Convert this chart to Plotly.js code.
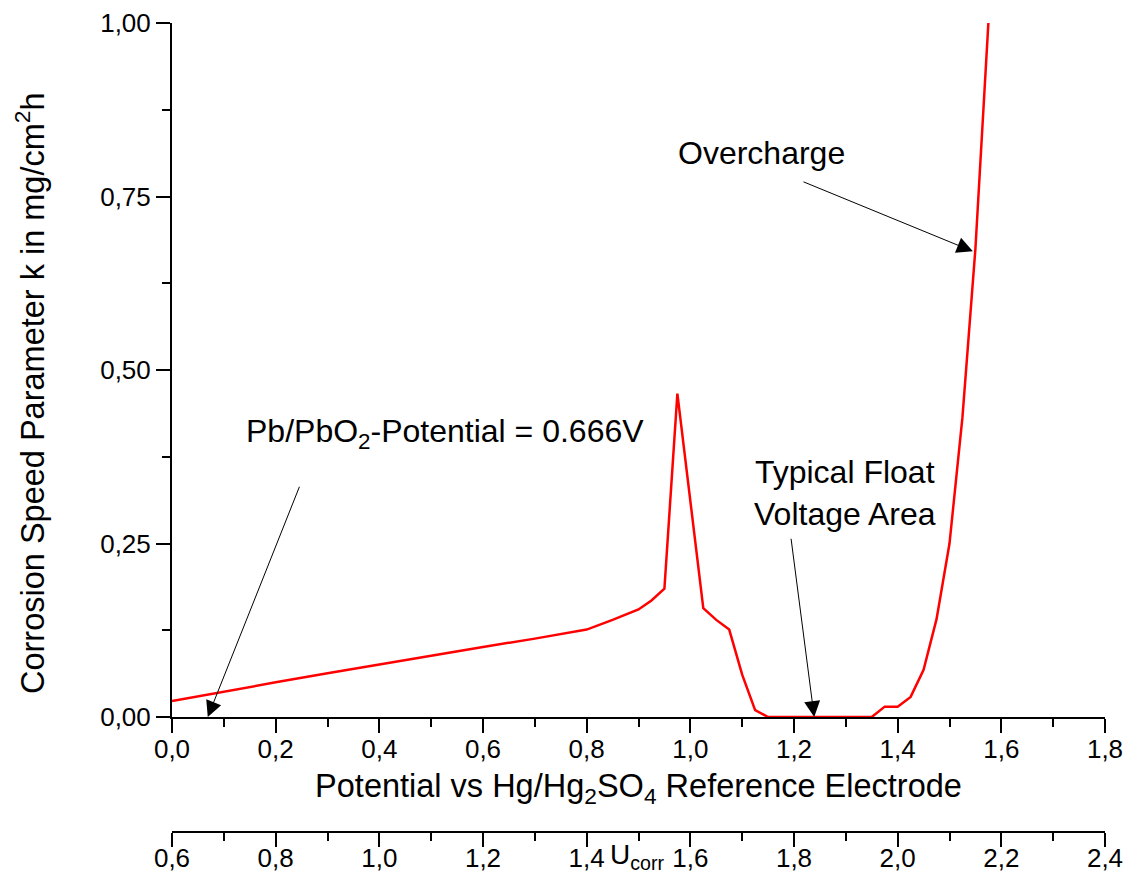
<!DOCTYPE html>
<html>
<head>
<meta charset="utf-8">
<script src="https://cdn.plot.ly/plotly-3.0.1.min.js"></script>
<style>html,body{margin:0;padding:0;background:#fff;}#chart{width:1127px;height:875px;}</style>
</head>
<body>
<div id="chart"></div>
<script>
// Data
const potential = [0, 0.1, 0.2, 0.3, 0.4, 0.5, 0.6, 0.7, 0.75, 0.8, 0.85, 0.9, 0.925, 0.95, 0.975,
  1.025, 1.05, 1.075, 1.1, 1.125, 1.15, 1.2, 1.25, 1.3, 1.35, 1.375, 1.4, 1.425, 1.45, 1.475,
  1.5, 1.525, 1.55, 1.575];
const corrosionK = [0.023, 0.037, 0.050, 0.063, 0.076, 0.089, 0.101, 0.113, 0.119, 0.126, 0.140, 0.155, 0.168, 0.185, 0.466,
  0.157, 0.140, 0.126, 0.061, 0.010, 0, 0, 0, 0, 0, 0.015, 0.015, 0.029, 0.068, 0.141,
  0.25, 0.432, 0.675, 1.0];

const yTicks = [0, 0.25, 0.5, 0.75, 1.0];
const xTicks = [0, 0.2, 0.4, 0.6, 0.8, 1.0, 1.2, 1.4, 1.6, 1.8];
const uTicks = [0.6, 0.8, 1.0, 1.2, 1.4, 1.6, 1.8, 2.0, 2.2, 2.4];

// annotation labels
const labelTexts = ['Pb/PbO<sub>2</sub>-Potential = 0.666V', 'Typical Float<br>Voltage Area', 'Overcharge'];
const labelX = [0.527, 1.298, 1.138];
const labelY = [0.409, 0.323, 0.813];
const arrowTipX = [0.069, 1.239, 1.545];
const arrowTipY = [0.0, 0.0, 0.671];
const arrowTailX = [0.247, 1.194, 1.2155];
const arrowTailY = [0.334, 0.259, 0.772];

const FONT = '"Liberation Sans", Arial, sans-serif';

const trace = {
  x: potential, y: corrosionK, type: 'scatter', mode: 'lines',
  line: {color: '#ff0000', width: 2.5}, xaxis: 'x', yaxis: 'y',
  showlegend: false, hoverinfo: 'x+y'
};
// empty helper trace so that the U_corr axis (x2) is created; it draws nothing
const uAxisHelper = {
  x: uTicks, y: uTicks.map(() => null), type: 'scatter', mode: 'lines',
  xaxis: 'x2', yaxis: 'y', showlegend: false, hoverinfo: 'skip',
  line: {color: 'rgba(0,0,0,0)'}
};

const annotations = [];
for (let i = 0; i < labelTexts.length; i++) {
  annotations.push({
    x: labelX[i], y: labelY[i], xref: 'x', yref: 'y', text: labelTexts[i],
    showarrow: false, font: {family: FONT, size: 32, color: '#000'}, align: 'center'
  });
  annotations.push({
    x: arrowTipX[i], y: arrowTipY[i], xref: 'x', yref: 'y',
    ax: arrowTailX[i], ay: arrowTailY[i], axref: 'x', ayref: 'y',
    text: '', showarrow: true, arrowhead: 2, arrowsize: 3.2, arrowwidth: 1,
    arrowcolor: '#000', standoff: 0, startstandoff: 0
  });
}
annotations.push({
  x: 0.897, y: 0, xref: 'x', yref: 'paper', yanchor: 'middle', yshift: -24,
  text: 'U<sub>corr</sub>', showarrow: false, font: {family: FONT, size: 28, color: '#000'}
});
// y-axis title as a rotated annotation so it can sit where the reference has it
annotations.push({
  x: 0, xref: 'paper', xanchor: 'center', xshift: -142,
  y: 1, yref: 'paper', yanchor: 'middle', yshift: -370,
  textangle: -90, showarrow: false,
  text: 'Corrosion Speed Parameter k in mg/cm<sup>2</sup>h',
  font: {family: FONT, size: 32.5, color: '#000'}
});

const axisCommon = {
  showgrid: false, zeroline: false, showline: true, linecolor: '#000', linewidth: 2,
  ticks: 'outside', ticklen: 14, tickwidth: 2, tickcolor: '#000',
  tickfont: {family: FONT, size: 26, color: '#000'}
};

const layout = {
  width: 1127, height: 875,
  margin: {l: 172, r: 22, t: 23, b: 43},
  paper_bgcolor: '#fff', plot_bgcolor: '#fff',
  separators: ',.',
  font: {family: FONT, color: '#000'},
  showlegend: false,
  xaxis: Object.assign({}, axisCommon, {
    range: [0, 1.8], tickvals: xTicks, tickformat: '.1f', anchor: 'y',
    ticklabelstandoff: -6,
    minor: {dtick: 0.1, tick0: 0, ticks: 'outside', ticklen: 8, tickwidth: 2, tickcolor: '#000'},
    title: {text: 'Potential vs Hg/Hg<sub>2</sub>SO<sub>4</sub> Reference Electrode',
      font: {family: FONT, size: 32.5, color: '#000'}, standoff: 11}
  }),
  xaxis2: Object.assign({}, axisCommon, {
    range: [0.6, 2.4], tickvals: uTicks, tickformat: '.1f', overlaying: 'x',
    anchor: 'free', position: 0, side: 'bottom',
    ticklabelstandoff: -11,
    minor: {dtick: 0.1, tick0: 0.6, ticks: 'outside', ticklen: 8, tickwidth: 2, tickcolor: '#000'}
  }),
  yaxis: Object.assign({}, axisCommon, {
    range: [0, 1], tickvals: yTicks, tickformat: '.2f', domain: [0.1421, 1],
    minor: {dtick: 0.125, tick0: 0, ticks: 'outside', ticklen: 8, tickwidth: 2, tickcolor: '#000'}
  }),
  annotations: annotations
};

Plotly.newPlot('chart', [trace, uAxisHelper], layout, {displayModeBar: false, staticPlot: true});
</script>
</body>
</html>
